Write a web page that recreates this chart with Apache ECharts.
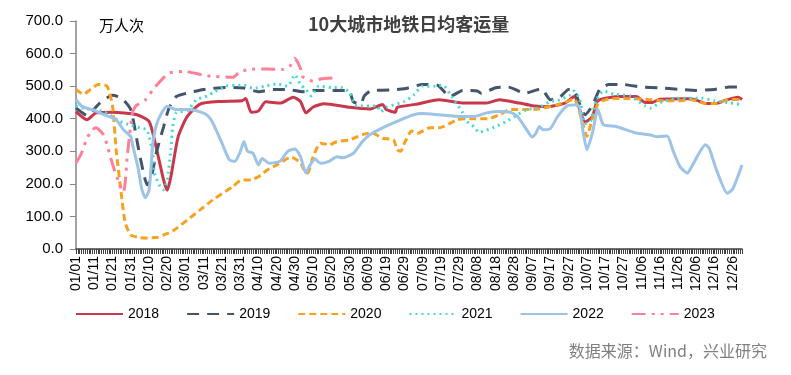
<!DOCTYPE html>
<html>
<head>
<meta charset="utf-8">
<script src="https://cdn.jsdelivr.net/npm/echarts@6/dist/echarts.min.js"></script>
<style>
  html, body { margin: 0; padding: 0; background: #fff; }
  #chart { width: 791px; height: 375px; }
</style>
</head>
<body>
<div id="chart"></div>
<script>
// day-of-year labels, 01/01 .. 12/31 (leap-year calendar, 366 days)
const days = [];
for (let d = new Date(2020, 0, 1); d.getFullYear() === 2020; d.setDate(d.getDate() + 1)) {
  days.push(String(d.getMonth() + 1).padStart(2, '0') + '/' + String(d.getDate()).padStart(2, '0'));
}

const years = ['2018', '2019', '2020', '2021', '2022', '2023'];

// [day index, 万人次]
const s2018 = [[0,422],[6,397],[11,418],[20,420],[33,413],[40,392],[43,335],[48,212],[50,180],[52,222],[56,345],[61,407],[68,445],[79,453],[91,455],[93,462],[96,420],[100,424],[104,452],[112,448],[119,466],[123,453],[126,418],[130,436],[136,446],[150,435],[161,430],[168,444],[170,428],[175,420],[176,435],[186,444],[199,458],[213,448],[225,448],[232,458],[243,448],[250,440],[259,437],[268,448],[273,468],[279,390],[283,406],[286,455],[298,468],[307,468],[312,450],[316,450],[320,460],[336,461],[340,457],[345,447],[351,447],[356,457],[363,466],[365,459]];
const s2019 = [[0,433],[6,410],[13,448],[20,472],[25,463],[30,428],[34,315],[37,233],[39,197],[41,213],[44,295],[48,375],[51,433],[55,468],[62,480],[70,490],[75,493],[82,496],[92,494],[100,483],[108,490],[116,490],[124,483],[131,487],[148,487],[150,485],[152,452],[156,445],[158,470],[162,487],[172,488],[180,492],[190,505],[198,503],[205,468],[212,487],[220,485],[222,478],[230,495],[237,497],[246,478],[255,492],[260,458],[265,465],[270,490],[273,487],[279,412],[283,440],[287,490],[292,505],[300,505],[310,497],[320,495],[330,490],[340,487],[350,490],[358,497],[365,497]];
const s2020 = [[0,490],[4,475],[8,490],[12,505],[17,500],[20,440],[22,305],[25,161],[27,80],[30,43],[35,35],[39,34],[45,36],[48,43],[53,55],[61,89],[68,120],[75,151],[86,192],[90,210],[96,213],[100,222],[105,243],[110,258],[118,282],[123,265],[125,243],[127,233],[130,284],[134,325],[139,320],[143,330],[150,335],[157,351],[162,357],[168,340],[174,335],[176,305],[178,300],[180,325],[184,362],[187,355],[194,372],[199,372],[209,397],[216,400],[226,400],[232,412],[238,428],[251,428],[264,443],[273,460],[277,400],[280,346],[283,400],[286,445],[290,458],[297,462],[312,460],[322,455],[332,455],[336,460],[345,447],[351,447],[358,459],[365,459]];
const s2021 = [[0,439],[4,432],[9,428],[15,422],[24,392],[30,380],[35,372],[39,365],[42,295],[43,233],[46,192],[48,182],[50,213],[52,305],[53,376],[55,418],[61,425],[66,458],[72,470],[76,483],[82,500],[92,503],[97,493],[104,500],[110,507],[116,500],[120,535],[123,505],[126,490],[129,470],[133,500],[140,496],[146,495],[150,480],[152,453],[154,439],[165,439],[167,421],[170,435],[180,453],[185,473],[190,500],[197,500],[201,503],[206,467],[212,418],[214,392],[218,376],[221,358],[225,365],[230,376],[236,392],[242,412],[247,428],[253,433],[260,453],[265,458],[271,473],[273,485],[276,460],[279,385],[282,392],[285,455],[289,485],[295,475],[304,469],[312,439],[315,433],[320,449],[329,463],[343,463],[350,455],[358,449],[365,443]];
const s2022 = [[0,459],[3,439],[6,432],[9,428],[15,413],[22,397],[26,366],[30,345],[31,320],[34,250],[36,185],[38,157],[40,180],[41,240],[42,320],[44,380],[47,418],[50,438],[55,428],[62,428],[68,421],[72,410],[75,387],[80,325],[84,274],[87,269],[90,298],[91.5,330],[94,300],[97,294],[100,258],[102,278],[106,263],[112,270],[116,300],[120,307],[123,284],[125.5,233],[128,255],[131,276],[134,263],[139,270],[143,283],[146,280],[152,294],[157,330],[161,351],[168,372],[176,392],[185,412],[190,416],[199,412],[210,407],[218,407],[225,418],[232,422],[238,420],[242,407],[247,366],[250,344],[252,355],[253.5,376],[256,366],[260,370],[264,407],[269,439],[275,443],[278,357],[280,305],[283,356],[286,428],[289,382],[296,376],[307,356],[315,350],[318,345],[324,347],[327,305],[331,253],[335,233],[338,259],[345,320],[347,310],[351,243],[357,171],[360,185],[365,258]];
const s2023 = [[0,264],[3,294],[6,340],[9,366],[11,372],[15,351],[17,320],[19,280],[21,243],[23,212],[25,182],[26,175],[27,206],[28,280],[31,420],[33,440],[38,458],[43,495],[47,520],[51,540],[59,545],[72,532],[86,527],[89,540],[94,551],[105,553],[113,551],[117,560],[120,585],[123,555],[124,530],[130,515],[134,522],[141,525]];

const colors = ['#c8374c', '#44546a', '#f7a21e', '#45d9d4', '#9dc3e6', '#ff7f96'];
const dashes = ['solid', [12, 8], [7, 4], [2, 4], 'solid', [14, 6, 3, 6, 3, 6]];
const seriesData = [s2018, s2019, s2020, s2021, s2022, s2023];

const chart = echarts.init(document.getElementById('chart'), null, { renderer: 'canvas' });

chart.setOption({
  animation: false,
  backgroundColor: '#fff',
  textStyle: { fontFamily: 'Liberation Sans, Arial, sans-serif' },
  grid: { left: 76, right: 49, top: 21, bottom: 126, containLabel: false },
  legend: {
    data: years,
    left: 70,
    top: 302,
    itemWidth: 47,
    itemHeight: 14,
    itemGap: 27,
    itemStyle: { opacity: 0 },
    textStyle: { fontSize: 14, color: '#000', fontFamily: 'Liberation Sans' }
  },
  xAxis: {
    type: 'category',
    data: days,
    boundaryGap: false,
    axisLine: { lineStyle: { color: '#404040', width: 1.5 } },
    axisTick: { interval: 0, length: 5, lineStyle: { color: '#404040' } },
    axisLabel: { interval: 9, rotate: 90, margin: 7, fontSize: 14, color: '#000', fontFamily: 'Liberation Sans' },
    splitLine: { show: false }
  },
  yAxis: {
    type: 'value',
    min: 0,
    max: 700,
    interval: 100,
    axisLine: { show: true, lineStyle: { color: '#868686', width: 1.5 } },
    axisTick: { show: true, length: 6, lineStyle: { color: '#868686' } },
    axisLabel: { margin: 13, fontSize: 15, color: '#000', fontFamily: 'Liberation Sans', formatter: v => v.toFixed(1) },
    splitLine: { show: false }
  },
  graphic: [
    { type: 'text', left: 308, top: 15, style: { text: '10大城市地铁日均客运量', fontSize: 18, fontWeight: 'bold', fill: '#404040', fontFamily: 'Noto Sans CJK SC' } },
    { type: 'text', left: 99, top: 18, style: { text: '万人次', fontSize: 15, fill: '#000', fontFamily: 'Noto Sans CJK SC' } },
    { type: 'text', right: 24, top: 343, style: { text: '数据来源：Wind，兴业研究', fontSize: 16, fill: '#7f7f7f', fontFamily: 'Noto Sans CJK SC' } }
  ],
  series: years.map((name, i) => ({
    name: name,
    type: 'line',
    data: seriesData[i],
    symbol: 'none',
    smooth: 0.2,
    color: colors[i],
    lineStyle: { color: colors[i], width: 3, type: dashes[i] }
  }))
});
</script>
</body>
</html>
